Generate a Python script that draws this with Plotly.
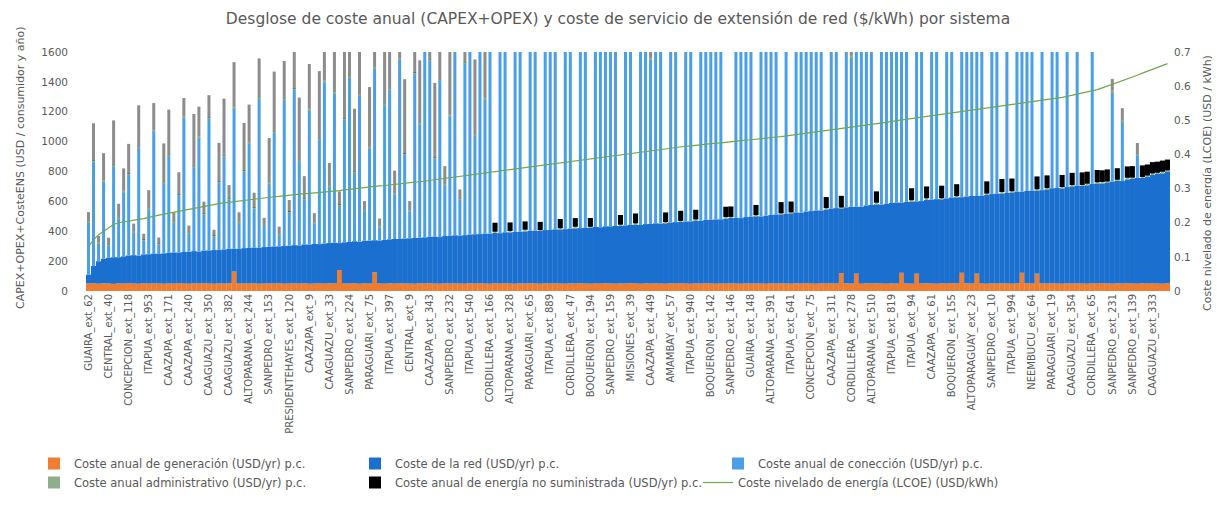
import plotly.graph_objects as go

# ---------------- data ----------------
tick_labels = [
    "GUAIRA_ext_62", "CENTRAL_ext_40", "CONCEPCION_ext_118", "ITAPUA_ext_953",
    "CAAZAPA_ext_171", "CAAZAPA_ext_240", "CAAGUAZU_ext_350", "CAAGUAZU_ext_382",
    "ALTOPARANA_ext_244", "SANPEDRO_ext_153", "PRESIDENTEHAYES_ext_120", "CAAZAPA_ext_9",
    "CAAGUAZU_ext_33", "SANPEDRO_ext_224", "PARAGUARI_ext_75", "ITAPUA_ext_397",
    "CENTRAL_ext_9", "CAAZAPA_ext_343", "SANPEDRO_ext_232", "ITAPUA_ext_540",
    "CORDILLERA_ext_166", "ALTOPARANA_ext_328", "PARAGUARI_ext_65", "ITAPUA_ext_889",
    "CORDILLERA_ext_47", "BOQUERON_ext_194", "SANPEDRO_ext_159", "MISIONES_ext_39",
    "CAAZAPA_ext_449", "AMAMBAY_ext_57", "ITAPUA_ext_940", "BOQUERON_ext_142",
    "SANPEDRO_ext_146", "GUAIRA_ext_148", "ALTOPARANA_ext_391", "ITAPUA_ext_641",
    "CONCEPCION_ext_75", "CAAZAPA_ext_311", "CORDILLERA_ext_278", "ALTOPARANA_ext_510",
    "ITAPUA_ext_819", "ITAPUA_ext_94", "CAAZAPA_ext_61", "BOQUERON_ext_155",
    "ALTOPARAGUAY_ext_23", "SANPEDRO_ext_10", "ITAPUA_ext_994", "NEEMBUCU_ext_64",
    "PARAGUARI_ext_19", "CAAGUAZU_ext_354", "CORDILLERA_ext_65", "SANPEDRO_ext_231",
    "SANPEDRO_ext_139", "CAAGUAZU_ext_333",
]
SYSTEMS_PER_LABEL = 4

gen_cost = [
    50, 52, 49, 51, 50, 48, 51, 50, 52, 50, 49, 51, 50, 51, 50, 49,
    51, 50, 52, 50, 49, 51, 50, 52, 50, 49, 51, 50, 52, 130, 50, 51,
    50, 51, 49, 50, 51, 50, 52, 49, 50, 51, 50, 52, 49, 50, 51, 50,
    51, 50, 140, 50, 50, 52, 49, 51, 50, 125, 50, 49, 51, 50, 52, 50,
    50, 49, 51, 50, 52, 50, 49, 51, 50, 51, 50, 49, 51, 50, 52, 50,
    49, 51, 50, 52, 50, 49, 51, 50, 52, 50, 49, 51, 50, 51, 50, 49,
    51, 50, 52, 50, 49, 51, 50, 52, 50, 49, 51, 50, 52, 50, 49, 51,
    50, 51, 50, 49, 51, 50, 52, 50, 49, 51, 50, 52, 50, 49, 51, 50,
    52, 50, 49, 51, 50, 51, 50, 49, 51, 50, 52, 50, 49, 51, 50, 52,
    50, 49, 51, 50, 52, 50, 120, 51, 50, 116, 49, 51, 50, 51, 50, 49,
    51, 50, 122, 50, 49, 116, 50, 52, 50, 49, 51, 50, 52, 50, 122, 51,
    50, 116, 50, 49, 51, 50, 52, 50, 49, 51, 122, 52, 50, 116, 51, 50,
    52, 50, 49, 51, 50, 51, 50, 49, 51, 50, 52, 50, 49, 51, 50, 52,
    50, 49, 51, 50, 52, 50, 49, 51,
]

network_cost = [
    60, 115, 150, 165, 172, 178, 175, 182, 186, 190, 188, 194, 196, 200, 198, 203,
    205, 208, 206, 211, 213, 216, 214, 219, 222, 225, 223, 228, 230, 153, 231, 236,
    238, 240, 239, 244, 245, 248, 247, 252, 253, 256, 255, 260, 262, 265, 263, 268,
    270, 273, 181, 276, 278, 281, 280, 285, 287, 215, 288, 293, 295, 298, 296, 301,
    303, 306, 305, 309, 311, 314, 312, 317, 319, 322, 321, 325, 327, 330, 329, 333,
    335, 338, 337, 341, 343, 346, 345, 349, 351, 354, 353, 357, 359, 362, 361, 365,
    367, 370, 369, 373, 375, 378, 377, 381, 383, 386, 385, 389, 391, 394, 393, 397,
    399, 402, 401, 406, 408, 411, 410, 415, 417, 420, 419, 424, 427, 430, 429, 434,
    437, 440, 439, 444, 447, 450, 449, 455, 458, 462, 461, 467, 471, 475, 474, 480,
    485, 490, 488, 495, 500, 505, 433, 509, 514, 448, 516, 522, 526, 530, 528, 534,
    538, 542, 470, 546, 550, 484, 552, 558, 562, 566, 564, 570, 574, 578, 506, 582,
    586, 520, 588, 594, 598, 602, 600, 606, 610, 614, 542, 618, 622, 556, 624, 631,
    636, 640, 638, 645, 651, 655, 653, 660, 666, 670, 668, 676, 683, 688, 686, 695,
    702, 708, 706, 715, 725, 735, 740, 750,
]

connection_cost = [
    350, 700, 120, 520, 80, 610, 260, 430, 540, 150, 720, 90, 300, 820, 60, 470,
    650, 200, 380, 900, 120, 560, 760, 240, 880, 90, 450, 620, 330, 940, 180, 510,
    700, 260, 1000, 140, 420, 760, 80, 980, 220, 1040, 560, 300, 900, 140, 700, 1080,
    380, 1000, 250, 820, 1100, 460, 980, 200, 620, 1150, 90, 900, 1000, 300, 1200, 560,
    180, 1100, 760, 1250, 1180, 520, 1050, 340, 800, 1300, 240, 1150, 1280, 660, 1400, 900,
    1400, 0, 1300, 1500, 0, 1500, 1450, 0, 1500, 1400, 0, 1500, 1300, 1500, 0, 1450,
    1500, 0, 1500, 1400, 0, 1500, 1500, 1250, 1500, 1400, 0, 1500, 1500, 0, 1500, 1500,
    1100, 1500, 1450, 0, 1500, 1500, 0, 1500, 1450, 0, 1500, 1500, 1500, 1500, 1300, 0,
    0, 1500, 1500, 1500, 1500, 0, 1500, 1200, 1500, 1500, 0, 1500, 0, 1500, 1500, 1400,
    1500, 1200, 1500, 0, 1500, 1500, 0, 1500, 1000, 1500, 1500, 1500, 1500, 0, 1500, 1500,
    1500, 1500, 1100, 1500, 0, 1500, 1500, 0, 1500, 1500, 0, 1500, 1500, 0, 1500, 1500,
    1200, 1500, 1500, 0, 1500, 1500, 0, 1500, 0, 1500, 1500, 1200, 1500, 0, 1500, 0,
    1500, 1000, 0, 1500, 0, 1500, 0, 0, 1500, 0, 0, 0, 600, 0, 400, 0,
    0, 150, 0, 0, 0, 0, 0, 0,
]

admin_cost = [
    8, 6, 9, 7, 10, 6, 8, 9, 7, 11, 6, 8, 9, 7, 10, 6,
    8, 9, 7, 11, 6, 8, 10, 7, 9, 6, 8, 10, 7, 9, 6, 8,
    10, 7, 9, 6, 8, 11, 7, 9, 6, 8, 10, 7, 9, 6, 8, 11,
    7, 9, 6, 8, 10, 7, 9, 6, 8, 10, 7, 9, 6, 8, 11, 7,
    9, 6, 8, 10, 7, 9, 6, 8, 11, 7, 9, 6, 8, 10, 7, 9,
    6, 8, 10, 7, 9, 6, 8, 11, 7, 9, 6, 8, 10, 7, 9, 6,
    8, 10, 7, 9, 6, 8, 11, 7, 9, 6, 8, 10, 7, 9, 6, 8,
    11, 7, 9, 6, 8, 10, 7, 9, 6, 8, 10, 7, 9, 6, 8, 11,
    7, 9, 6, 8, 10, 7, 9, 6, 8, 10, 7, 9, 6, 8, 11, 7,
    9, 6, 8, 10, 7, 9, 6, 8, 11, 7, 9, 6, 8, 10, 7, 9,
    6, 8, 10, 7, 9, 6, 8, 11, 7, 9, 6, 8, 10, 7, 9, 6,
    8, 10, 7, 9, 6, 8, 11, 7, 9, 6, 8, 10, 7, 9, 6, 8,
    11, 7, 9, 6, 8, 10, 7, 9, 6, 8, 10, 7, 9, 6, 8, 11,
    7, 9, 6, 8, 10, 7, 9, 6,
]

ens_cost = [
    60, 250, 40, 180, 45, 300, 90, 150, 200, 50, 280, 40, 120, 180, 40, 260,
    300, 60, 150, 120, 50, 350, 200, 80, 150, 40, 260, 380, 90, 300, 60, 320,
    250, 100, 260, 50, 300, 400, 45, 250, 80, 250, 420, 150, 300, 60, 450, 200,
    150, 280, 90, 450, 220, 420, 350, 60, 400, 200, 50, 380, 300, 150, 250, 500,
    60, 250, 420, 100, 200, 500, 300, 120, 450, 250, 60, 300, 200, 500, 100, 400,
    55, 60, 52, 58, 57, 54, 60, 56, 58, 61, 55, 59, 60, 57, 62, 58,
    61, 58, 63, 60, 59, 64, 60, 62, 62, 60, 65, 61, 63, 66, 61, 64,
    64, 62, 67, 65, 66, 63, 68, 65, 67, 65, 70, 66, 68, 71, 66, 69,
    70, 67, 72, 69, 71, 68, 73, 70, 72, 70, 75, 71, 73, 76, 71, 74,
    75, 72, 77, 74, 76, 73, 78, 75, 77, 75, 80, 76, 78, 76, 81, 77,
    79, 77, 82, 78, 80, 78, 83, 79, 81, 79, 84, 80, 82, 80, 85, 81,
    83, 81, 86, 82, 84, 82, 87, 83, 85, 83, 88, 84, 84, 86, 82, 85,
    83, 85, 81, 84, 82, 80, 84, 81, 80, 82, 78, 81, 79, 77, 80, 76,
    77, 75, 78, 74, 76, 74, 75, 73,
]

lcoe = [
    0.13, 0.15, 0.165, 0.175, 0.185, 0.195, 0.20, 0.203, 0.205, 0.207, 0.21, 0.212,
    0.216, 0.22, 0.222, 0.225, 0.228, 0.231, 0.234, 0.236, 0.238, 0.241, 0.244, 0.247,
    0.25, 0.253, 0.256, 0.258, 0.26, 0.262, 0.264, 0.266, 0.268, 0.27, 0.271, 0.273,
    0.275, 0.276, 0.277, 0.279, 0.28, 0.282, 0.283, 0.285, 0.286, 0.287, 0.289, 0.29,
    0.291, 0.292, 0.294, 0.296, 0.298, 0.299, 0.301, 0.303, 0.305, 0.306, 0.308, 0.309,
    0.311, 0.312, 0.314, 0.315, 0.317, 0.319, 0.32, 0.322, 0.324, 0.326, 0.328, 0.33,
    0.332, 0.334, 0.336, 0.338, 0.34, 0.342, 0.344, 0.346, 0.348, 0.349, 0.351, 0.352,
    0.354, 0.356, 0.358, 0.36, 0.362, 0.364, 0.366, 0.368, 0.37, 0.372, 0.374, 0.377,
    0.379, 0.381, 0.383, 0.385, 0.387, 0.389, 0.391, 0.393, 0.395, 0.397, 0.399, 0.401,
    0.403, 0.405, 0.407, 0.409, 0.411, 0.413, 0.415, 0.417, 0.419, 0.42, 0.422, 0.424,
    0.425, 0.427, 0.428, 0.43, 0.431, 0.433, 0.434, 0.436, 0.437, 0.439, 0.44, 0.442,
    0.443, 0.445, 0.446, 0.448, 0.449, 0.451, 0.452, 0.454, 0.455, 0.457, 0.458, 0.46,
    0.462, 0.464, 0.466, 0.468, 0.47, 0.472, 0.474, 0.476, 0.478, 0.48, 0.482, 0.485,
    0.487, 0.489, 0.492, 0.494, 0.496, 0.499, 0.501, 0.503, 0.506, 0.508, 0.51, 0.512,
    0.514, 0.516, 0.518, 0.52, 0.522, 0.524, 0.526, 0.528, 0.53, 0.532, 0.534, 0.536,
    0.538, 0.54, 0.542, 0.544, 0.546, 0.548, 0.55, 0.552, 0.554, 0.556, 0.558, 0.56,
    0.562, 0.564, 0.567, 0.57, 0.573, 0.576, 0.579, 0.582, 0.586, 0.59, 0.595, 0.6,
    0.605, 0.61, 0.615, 0.62, 0.626, 0.632, 0.638, 0.644, 0.65, 0.655, 0.66, 0.666,
]

# ---------------- figure ----------------
x = list(range(len(network_cost)))
tick_pos = x[::SYSTEMS_PER_LABEL]
GREY = "#595959"
FONT = "DejaVu Sans"

# stacked bases (Excel stacking order: generation, network, connection, admin, ENS)
base_net = gen_cost
base_conn = [g + n for g, n in zip(gen_cost, network_cost)]
base_admin = [b + c for b, c in zip(base_conn, connection_cost)]
base_ens = [b + a for b, a in zip(base_admin, admin_cost)]

THIN = 0.6
ens_width = [1.02 if c < 50 else THIN for c in connection_cost]
ens_opacity = [1.0 if c < 50 else 0.45 for c in connection_cost]

fig = go.Figure()
fig.add_bar(x=x, y=gen_cost, base=0, width=1.04,
            name="Coste anual de generación (USD/yr) p.c.",
            marker=dict(color="#ED7D31", line=dict(width=0)), legend="legend")
fig.add_bar(x=x, y=network_cost, base=base_net, width=1.04,
            name="Coste de la red (USD/yr) p.c.",
            marker=dict(color="#1A6FCF", line=dict(width=0)), legend="legend2")
fig.add_bar(x=x, y=connection_cost, base=base_conn, width=THIN,
            name="Coste anual de conección (USD/yr) p.c.",
            marker=dict(color="#4A9FE6", line=dict(width=0)), legend="legend3")
fig.add_bar(x=x, y=admin_cost, base=base_admin, width=THIN,
            name="Coste anual administrativo (USD/yr) p.c.",
            marker=dict(color="#8FAE8B", line=dict(width=0)), legend="legend4")
fig.add_bar(x=x, y=ens_cost, base=base_ens, width=ens_width,
            name="Coste anual de energía no suministrada (USD/yr) p.c.",
            marker=dict(color="#000000", opacity=ens_opacity, line=dict(width=0)),
            legend="legend5")
fig.add_scatter(x=x, y=lcoe, name="Coste nivelado de energía (LCOE) (USD/kWh)",
                mode="lines", line=dict(color="#6FA84A", width=1.2), yaxis="y2",
                legend="legend6")

L, R, T, B = 78, 1162, 44, 283
W, H = 1220, 524


def px_x(px):
    return (px - L) / (R - L)


def px_y(py):
    return 1 - (py - T) / (B - T)


def leg(text_x, row_y):
    return dict(x=px_x(text_x - 48), y=px_y(row_y - 22), xanchor="left", yanchor="top",
                bgcolor="rgba(0,0,0,0)", font=dict(family=FONT, size=11.5, color=GREY),
                itemwidth=30, tracegroupgap=0)


fig.update_layout(
    width=W, height=H,
    barmode="overlay", showlegend=True,
    plot_bgcolor="white", paper_bgcolor="white",
    margin=dict(l=L, r=W - R, t=T, b=H - B, autoexpand=False),
    font=dict(family=FONT, color=GREY),
    title=dict(text="Desglose de coste anual (CAPEX+OPEX) y coste de servicio de extensión de red ($/kWh) por sistema",
               x=0.5, xref="container", xanchor="center", y=1 - 11 / H, yanchor="middle",
               font=dict(family=FONT, size=15.5, color=GREY)),
    xaxis=dict(range=[-0.5, len(x) - 0.5], tickmode="array", tickvals=tick_pos,
               ticktext=tick_labels, tickangle=-90, showgrid=False, zeroline=False,
               showline=False, ticks="", tickfont=dict(family=FONT, size=10, color=GREY)),
    yaxis=dict(range=[0, 1600], dtick=200, showgrid=False, zeroline=False, showline=False,
               tickfont=dict(family=FONT, size=10.5, color=GREY), ticklabelstandoff=17),
    yaxis2=dict(range=[0, 0.7], dtick=0.1, overlaying="y", side="right", showgrid=False,
                zeroline=False, showline=False,
                tickfont=dict(family=FONT, size=10.5, color=GREY), ticklabelstandoff=3),
    legend=leg(74, 463),
    legend2=leg(395, 463),
    legend3=leg(758, 463),
    legend4=leg(74, 482),
    legend5=leg(395, 482),
    legend6=leg(738, 482),
    annotations=[
        dict(text="CAPEX+OPEX+CosteENS (USD / consumidor y año)", textangle=-90,
             xref="paper", yref="paper", x=px_x(12), y=px_y(160), xanchor="center",
             yanchor="middle", showarrow=False, font=dict(family=FONT, size=11, color=GREY)),
        dict(text="Coste nivelado de energía (LCOE) (USD / kWh)", textangle=-90,
             xref="paper", yref="paper", x=px_x(1199), y=px_y(175), xanchor="center",
             yanchor="middle", showarrow=False, font=dict(family=FONT, size=11, color=GREY)),
    ],
)

fig.write_html("out.html")
